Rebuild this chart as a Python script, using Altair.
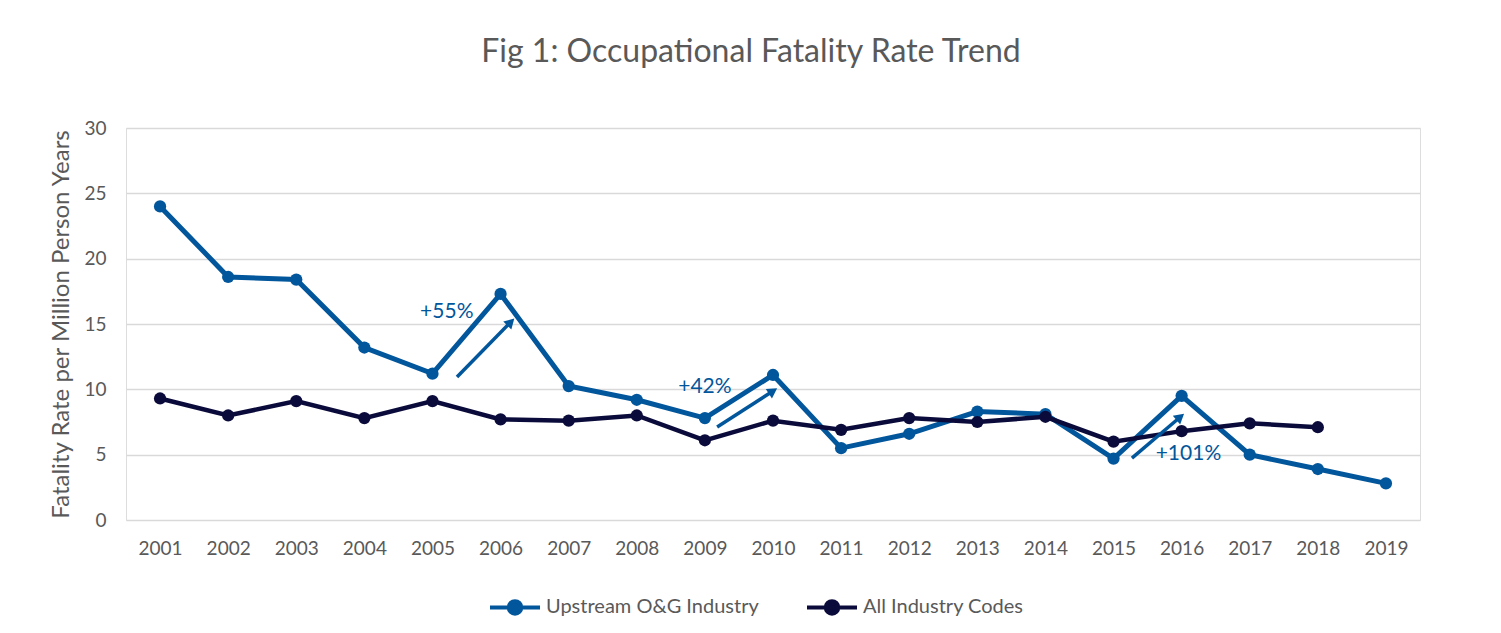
import altair as alt
import pandas as pd

years = list(range(2001, 2020))
upstream = [24.0, 18.6, 18.4, 13.2, 11.2, 17.3, 10.25, 9.2, 7.8, 11.1, 5.5, 6.6, 8.3, 8.1, 4.7, 9.5, 5.0, 3.9, 2.8]
all_industry = [9.3, 8.0, 9.1, 7.8, 9.1, 7.7, 7.6, 8.0, 6.1, 7.6, 6.9, 7.8, 7.5, 7.9, 6.0, 6.8, 7.4, 7.1]
series_names = ["Upstream O&G Industry", "All Industry Codes"]
series_colors = ["#02569B", "#0B0B3B"]

ann_labels = ["+55%", "+42%", "+101%"]
ann_label_x = [2005.21, 2009.0, 2016.10]
ann_label_y = [15.9, 10.2, 5.05]
arrow_x0 = [2005.36, 2009.18, 2015.27]
arrow_y0 = [10.94, 7.12, 4.74]
arrow_x1 = [2006.15, 2010.0, 2015.98]
arrow_y1 = [15.15, 9.87, 7.88]
arrow_angle = [45, 57, 50]

rows = []
for y, v in zip(years, upstream):
    rows.append({"year": y, "rate": v, "series": series_names[0]})
for y, v in zip(years, all_industry):
    rows.append({"year": y, "rate": v, "series": series_names[1]})
df = pd.DataFrame(rows)

ann_df = pd.DataFrame({"label": ann_labels, "x": ann_label_x, "y": ann_label_y})
arr_df = pd.DataFrame({"x0": arrow_x0, "y0": arrow_y0, "x1": arrow_x1, "y1": arrow_y1, "angle": arrow_angle})

FONT = "Lato"
GREY = "#595959"

xscale = alt.Scale(domain=[2000.5, 2019.5], nice=False, zero=False)
yscale = alt.Scale(domain=[0, 30], nice=False)

x_enc = alt.X("year:Q", scale=xscale,
              axis=alt.Axis(title=None, values=years, format="d", grid=False, domain=False,
                            ticks=False, labelPadding=19, labelFontSize=19, labelColor=GREY,
                            labelFont=FONT, labelFlush=False))
y_enc = alt.Y("rate:Q", scale=yscale,
              axis=alt.Axis(title="Fatality Rate per Million Person Years", values=[0, 5, 10, 15, 20, 25, 30],
                            grid=True, gridColor="#D9D9D9", gridWidth=1.5, domain=False, ticks=False,
                            labelPadding=20, labelFontSize=19, labelColor=GREY, labelFont=FONT,
                            titleFontSize=24, titleFont=FONT, titleFontWeight="normal",
                            titleColor=GREY, titlePadding=10))

legend_path = "M-1,0L1,0M0.25,0A0.25,0.25,0,1,1,-0.25,0A0.25,0.25,0,1,1,0.25,0Z"
color_enc = alt.Color("series:N", scale=alt.Scale(domain=series_names, range=series_colors),
                      legend=alt.Legend(title=None, orient="none", legendX=362, legendY=452,
                                        direction="horizontal", symbolType=legend_path,
                                        symbolSize=2500, symbolStrokeWidth=4,
                                        labelFontSize=20, labelColor=GREY, labelFont=FONT,
                                        labelLimit=0, columnPadding=40, labelOffset=4))

layers = []
for i, s in enumerate(series_names):
    base = alt.Chart(df).transform_filter(alt.datum.series == s).encode(x=x_enc, y=y_enc, color=color_enc)
    layers.append(base.mark_line(strokeWidth=5 if i == 0 else 4.5))
    layers.append(base.mark_point(filled=True, size=150, opacity=1))

arrows = alt.Chart(arr_df).mark_rule(color=series_colors[0], strokeWidth=3.5).encode(
    x=alt.X("x0:Q", scale=xscale), y=alt.Y("y0:Q", scale=yscale),
    x2="x1:Q", y2="y1:Q")
heads = alt.Chart(arr_df).mark_point(shape="triangle-up", filled=True, size=130, opacity=1,
                                     color=series_colors[0]).encode(
    x=alt.X("x1:Q", scale=xscale), y=alt.Y("y1:Q", scale=yscale),
    angle=alt.Angle("angle:Q", scale=None))
labels = alt.Chart(ann_df).mark_text(color=series_colors[0], fontSize=21, font=FONT).encode(
    x=alt.X("x:Q", scale=xscale), y=alt.Y("y:Q", scale=yscale), text="label:N")

chart = alt.layer(*layers, arrows, heads, labels).properties(
    width=1294, height=392,
    title=alt.TitleParams("Fig 1: Occupational Fatality Rate Trend", fontSize=32, font=FONT,
                          fontWeight="normal", color=GREY, anchor="middle", dx=-22, offset=50),
    autosize=alt.AutoSizeParams(type="none"),
    padding={"left": 118, "top": 120, "right": 73, "bottom": 105},
).configure_view(stroke=None).configure(background="white")

chart.save("out.html", embed_options={"renderer": "svg", "actions": False})
